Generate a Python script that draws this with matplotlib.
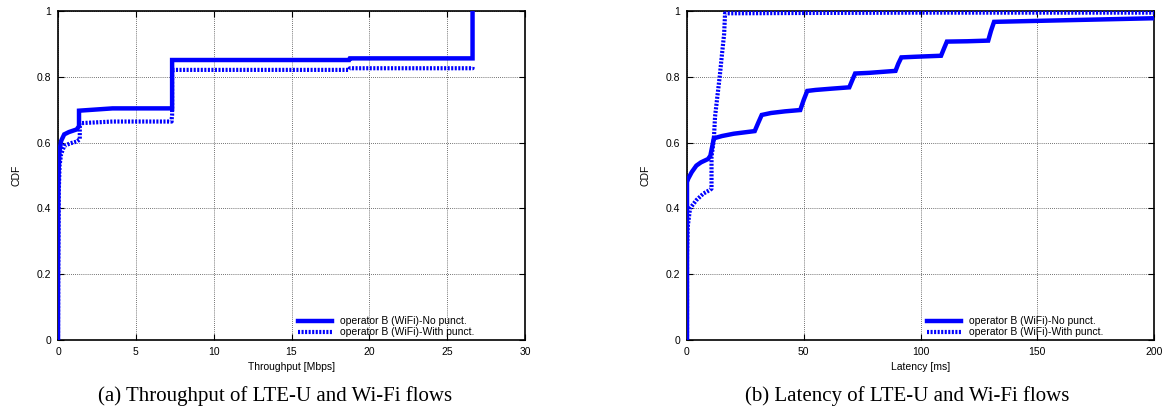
import numpy as np
import matplotlib
matplotlib.use("Agg")
import matplotlib.pyplot as plt

# throughput CDF (Mbps)
tput_nopunct_x = [0, 0, 0.02, 0.05, 0.1, 0.2, 0.4, 0.7, 1.2, 1.35, 1.35, 3.5, 7.33, 7.33, 18.7, 18.75, 26.63, 26.63]
tput_nopunct_y = [0, 0.2, 0.45, 0.53, 0.575, 0.605, 0.625, 0.632, 0.64, 0.65, 0.697, 0.704, 0.704, 0.851, 0.851, 0.856, 0.856, 1.0]
tput_punct_x = [0, 0.02, 0.05, 0.1, 0.2, 0.4, 0.8, 1.2, 1.4, 1.4, 3.5, 7.3, 7.3, 7.33, 7.33, 18.7, 18.75, 26.63, 26.63]
tput_punct_y = [0, 0.25, 0.45, 0.53, 0.565, 0.59, 0.598, 0.603, 0.61, 0.659, 0.664, 0.664, 0.67, 0.684, 0.821, 0.821, 0.826, 0.826, 0.83]

# latency CDF (ms)
lat_nopunct_x = [0, 0, 0.5, 2, 4, 6, 9, 10, 11.5, 15, 20, 29, 30.5, 32, 36, 42, 48.5, 50, 51.5, 55, 62, 69.5,
                 70.8, 72, 78, 89.3, 90.5, 91.8, 98, 108.8, 110, 111.3, 120, 129, 130.2, 131.5, 150, 175, 200]
lat_nopunct_y = [0, 0.48, 0.49, 0.51, 0.53, 0.54, 0.55, 0.56, 0.613, 0.62, 0.627, 0.635, 0.66, 0.684, 0.69, 0.695,
                 0.699, 0.73, 0.757, 0.76, 0.764, 0.768, 0.79, 0.81, 0.812, 0.818, 0.84, 0.859, 0.861, 0.864, 0.885,
                 0.907, 0.908, 0.91, 0.94, 0.967, 0.97, 0.974, 0.978]
lat_punct_x = [0, 0, 0.3, 1.3, 4, 7, 9.8, 10.5, 10.5, 11.5, 12, 13, 14, 15, 15.9, 16.3, 50, 100, 150, 200]
lat_punct_y = [0, 0.26, 0.344, 0.40, 0.425, 0.445, 0.456, 0.46, 0.557, 0.61, 0.678, 0.74, 0.80, 0.87, 0.93, 0.993,
               0.994, 0.995, 0.995, 0.995]

labels = ['operator B (WiFi)-No punct.', 'operator B (WiFi)-With punct.']
yticks = [0, 0.2, 0.4, 0.6, 0.8, 1]
ytick_labels = ['0', '0.2', '0.4', '0.6', '0.8', '1']

plt.rcParams['font.family'] = ['Liberation Sans', 'DejaVu Sans']

fig = plt.figure(figsize=(11.68, 4.09), dpi=100)
ax1 = fig.add_axes([58/1168, 1-340/409, 467/1168, 329/409])
ax2 = fig.add_axes([687/1168, 1-340/409, 467/1168, 329/409])

panels = [
    (ax1, tput_nopunct_x, tput_nopunct_y, tput_punct_x, tput_punct_y, 30, [0, 5, 10, 15, 20, 25, 30],
     'Throughput [Mbps]', '(a) Throughput of LTE-U and Wi-Fi flows', 275),
    (ax2, lat_nopunct_x, lat_nopunct_y, lat_punct_x, lat_punct_y, 200, [0, 50, 100, 150, 200],
     'Latency [ms]', '(b) Latency of LTE-U and Wi-Fi flows', 907),
]

for ax, x1, y1, x2, y2, xmax, xt, xlab, cap, capx in panels:
    ax.plot(x1, y1, color='#0000ff', lw=3.2, solid_joinstyle='miter', label=labels[0], zorder=4)
    ax.plot(x2, y2, color='#0000ff', lw=3.0, linestyle=(0, (0.5, 0.35)), label=labels[1], zorder=3)
    ax.set_xlim(0, xmax)
    ax.set_ylim(0, 1)
    ax.set_xticks(xt)
    ax.set_xticklabels([str(v) for v in xt])
    ax.set_yticks(yticks)
    ax.set_yticklabels(ytick_labels)
    ax.tick_params(direction='in', length=4, width=0.8, labelsize=7.5, top=True, right=True, pad=5)
    ax.grid(True, color='#444444', lw=0.6, linestyle=(0, (1, 1.5)))
    for s in ax.spines.values():
        s.set_linewidth(1.2)
    ax.set_xlabel(xlab, fontsize=7.5, labelpad=4)
    ax.set_ylabel('CDF', fontsize=7.5, labelpad=11)
    ax.legend(loc='lower left', bbox_to_anchor=(0.514, 0.008), frameon=False, fontsize=7.5,
              handlelength=3.3, handletextpad=0.7, labelspacing=0.1, borderpad=0, borderaxespad=0)
    fig.text(capx/1168, 1-401/409, cap, ha='center', va='baseline',
             fontsize=15, family=['Liberation Serif', 'DejaVu Serif'])

fig.savefig('out.png', dpi=100)
